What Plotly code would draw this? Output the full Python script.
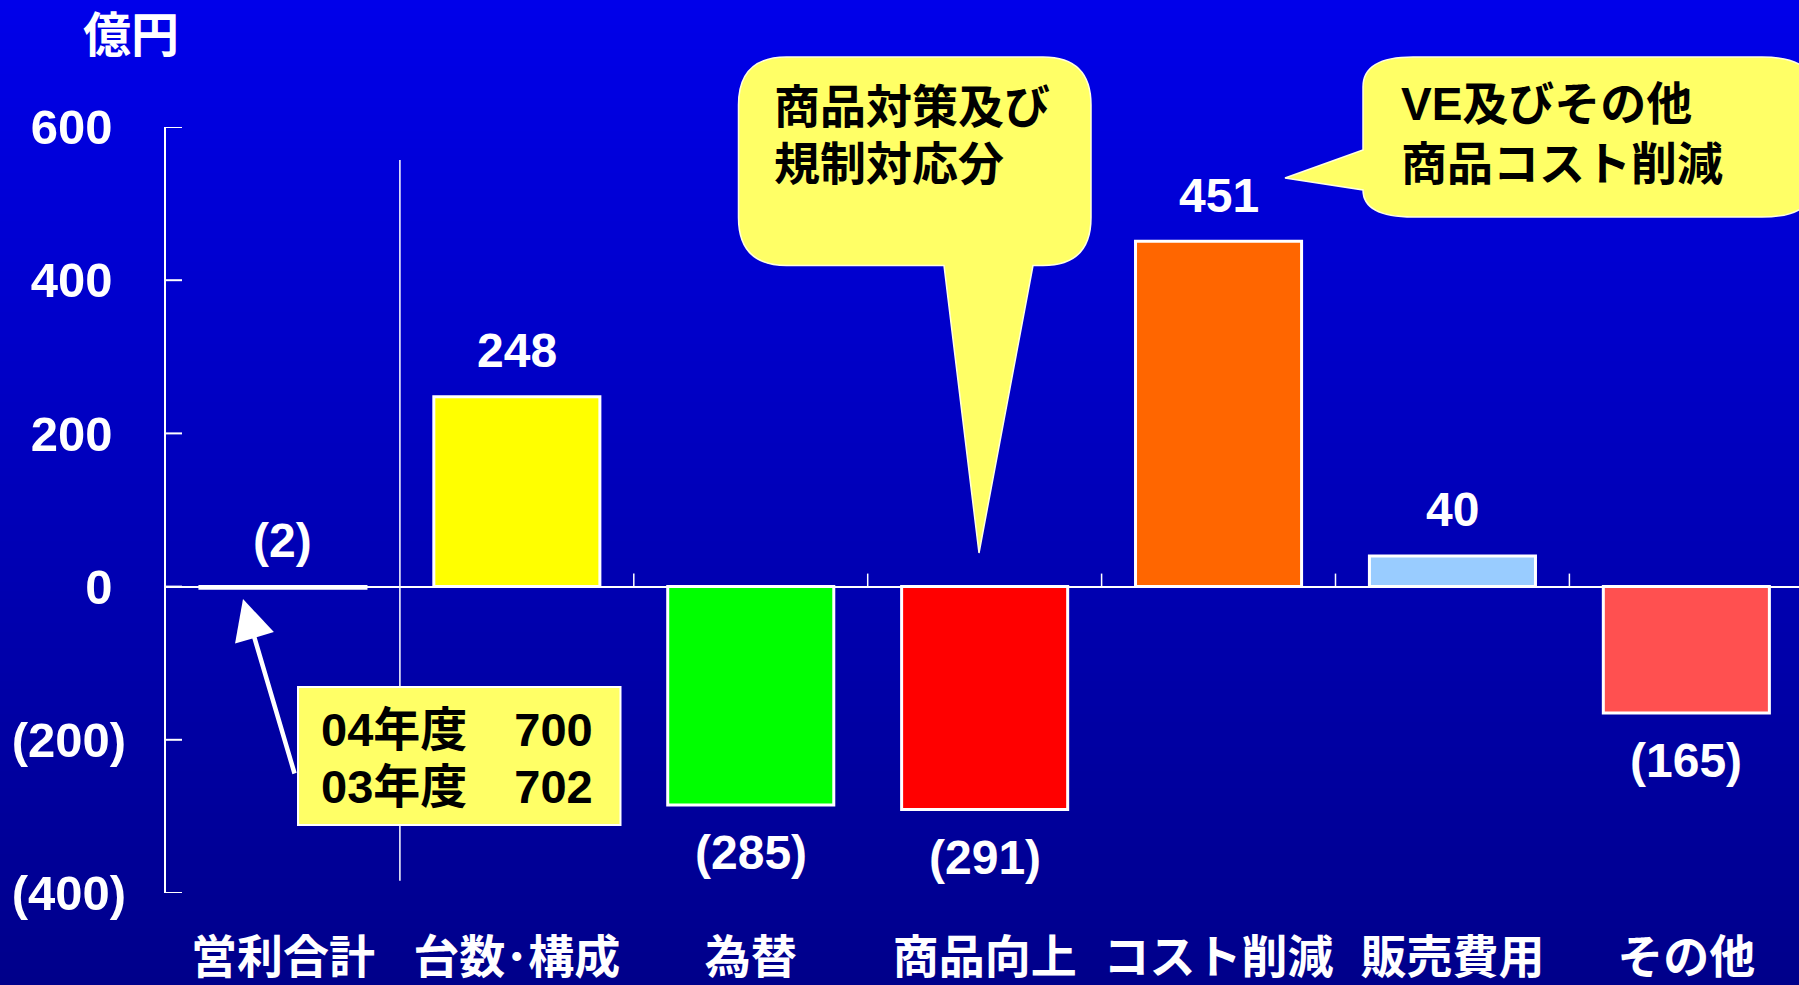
import plotly.graph_objects as go

# ---- data ----
categories = ["営利合計", "台数･構成", "為替", "商品向上", "コスト削減", "販売費用", "その他"]
values = [-2, 248, -285, -291, 451, 40, -165]
bar_colors = ["#FFFFFF", "#FFFF00", "#00FF00", "#FF0000", "#FF6600", "#99CCFF", "#FF5050"]
y_tickvals = [-400, -200, 0, 200, 400, 600]
y_ticktext = ["(400)", "(200)", "0\u00a0", "200\u00a0", "400\u00a0", "600\u00a0"]
unit_label = "億円"
callout1_lines = ["商品対策及び", "規制対応分"]
callout2_lines = ["VE及びその他", "商品コスト削減"]
box_lines = ["04年度　700", "03年度　702"]

W, H = 1799, 985
FONT = "Liberation Sans, Arial, Noto Sans CJK JP, sans-serif"


def px(x):
    return x / W


def py(y):
    return 1 - y / H


def fmt(v):
    return f"({abs(v)})" if v < 0 else str(v)


fig = go.Figure()
fig.add_trace(go.Bar(
    x=categories, y=values, width=0.71,
    marker=dict(color=bar_colors, line=dict(color="white", width=3)),
    hoverinfo="x+y", showlegend=False,
))

shapes = []
# background gradient
N = 120
top = (0, 0, 234)
bot = (0, 0, 138)
for i in range(N):
    t = (i + 0.5) / N
    c = tuple(round(top[k] + (bot[k] - top[k]) * t) for k in range(3))
    shapes.append(dict(type="rect", xref="paper", yref="paper", layer="below",
                       x0=0, x1=1, y0=1 - (i + 1) / N - 0.001, y1=1 - i / N,
                       fillcolor=f"rgb{c}", line=dict(width=0)))

# y tick marks (inside)
for v in y_tickvals:
    shapes.append(dict(type="line", xref="paper", yref="y", x0=px(166), x1=px(182), y0=v, y1=v,
                       line=dict(color="white", width=2)))

# separator line after first category and boundary ticks on zero line
shapes.append(dict(type="line", xref="x", yref="y", x0=0.5, x1=0.5, y0=-384, y1=557,
                   line=dict(color="white", width=1.5)))
for b in [1.5, 2.5, 3.5, 4.5, 5.5]:
    shapes.append(dict(type="line", xref="x", yref="y", x0=b, x1=b, y0=0, y1=17,
                       line=dict(color="white", width=1.5)))

# callout 1 (rounded rect with tail downward)
L, R, T, B = 738.5, 1091, 57, 265.5
r = 48
path = (f"M {px(L + r)},{py(T)} L {px(R - r)},{py(T)} Q {px(R)},{py(T)} {px(R)},{py(T + r)} "
        f"L {px(R)},{py(B - r)} Q {px(R)},{py(B)} {px(R - r)},{py(B)} "
        f"L {px(1033)},{py(B)} L {px(979)},{py(553)} L {px(944)},{py(B)} "
        f"L {px(L + r)},{py(B)} Q {px(L)},{py(B)} {px(L)},{py(B - r)} "
        f"L {px(L)},{py(T + r)} Q {px(L)},{py(T)} {px(L + r)},{py(T)} Z")
shapes.append(dict(type="path", xref="paper", yref="paper", path=path,
                   fillcolor="#FFFF66", line=dict(color="#FFFFE0", width=1.5)))

# callout 2 (rounded rect with tail to the left)
L, R, T, B = 1363, 1812, 57, 217
rx, ry = 50, 30
path = (f"M {px(L + rx)},{py(T)} L {px(R - rx)},{py(T)} Q {px(R)},{py(T)} {px(R)},{py(T + ry)} "
        f"L {px(R)},{py(B - ry)} Q {px(R)},{py(B)} {px(R - rx)},{py(B)} "
        f"L {px(L + rx)},{py(B)} Q {px(L)},{py(B)} {px(L)},{py(190)} "
        f"L {px(1285)},{py(178)} L {px(L)},{py(150)} "
        f"L {px(L)},{py(T + ry)} Q {px(L)},{py(T)} {px(L + rx)},{py(T)} Z")
shapes.append(dict(type="path", xref="paper", yref="paper", path=path,
                   fillcolor="#FFFF66", line=dict(color="#FFFFE0", width=1.5)))

# info box
shapes.append(dict(type="rect", xref="paper", yref="paper",
                   x0=px(298), x1=px(620.5), y0=py(825), y1=py(687),
                   fillcolor="#FFFF66", line=dict(color="white", width=2)))

annotations = []
# value labels
for c, v in zip(categories, values):
    above = v >= 0 or abs(v) < 10
    annotations.append(dict(
        x=c, y=max(v, 0) if above else v, xref="x", yref="y",
        text=fmt(v), showarrow=False, yanchor="middle",
        yshift=46 if above else -48,
        font=dict(family=FONT, size=48, color="white", weight="bold")))

# unit label
annotations.append(dict(x=px(131), y=py(36), xref="paper", yref="paper", text=unit_label,
                        showarrow=False, xanchor="center", yanchor="middle",
                        font=dict(family=FONT, size=48, color="white", weight="bold")))

# callout texts
for i, t in enumerate(callout1_lines):
    annotations.append(dict(x=px(772), y=py(107 + 57 * i), xref="paper", yref="paper", text=t,
                            showarrow=False, xanchor="left", yanchor="middle",
                            font=dict(family=FONT, size=46, color="black", weight="bold")))
for i, t in enumerate(callout2_lines):
    annotations.append(dict(x=px(1399), y=py(104 + 60 * i), xref="paper", yref="paper", text=t,
                            showarrow=False, xanchor="left", yanchor="middle",
                            font=dict(family=FONT, size=46, color="black", weight="bold")))
for i, t in enumerate(box_lines):
    annotations.append(dict(x=px(319), y=py(729 + 57 * i), xref="paper", yref="paper", text=t,
                            showarrow=False, xanchor="left", yanchor="middle",
                            font=dict(family=FONT, size=47, color="black", weight="bold")))

# arrow
annotations.append(dict(x=px(243), y=py(599), xref="paper", yref="paper",
                        ax=52, ay=176, axref="pixel", ayref="pixel",
                        text="", showarrow=True, arrowhead=2, arrowsize=1.8,
                        arrowwidth=4.5, arrowcolor="white", standoff=0))

fig.update_layout(
    width=W, height=H,
    margin=dict(l=0, r=0, t=0, b=0),
    paper_bgcolor="#0000B4", plot_bgcolor="rgba(0,0,0,0)",
    shapes=shapes, annotations=annotations,
    showlegend=False,
    xaxis=dict(domain=[px(166), 1], range=[-0.5, -0.5 + (W - 166) / 233.9],
               showgrid=False, zeroline=False, showline=False, ticks="",
               tickfont=dict(family=FONT, size=46, color="white", weight="bold"),
               ticklabelstandoff=33, automargin=False),
    yaxis=dict(domain=[py(893), py(127)], range=[-400, 600],
               tickvals=y_tickvals, ticktext=y_ticktext,
               showgrid=False, zeroline=True, zerolinecolor="white", zerolinewidth=2,
               showline=True, linecolor="white", linewidth=2,
               ticks="",
               tickfont=dict(family=FONT, size=49, color="white", weight="bold"),
               ticklabelstandoff=28, automargin=False),
)

fig.write_html("out.html", config={"displayModeBar": False},
               post_script="document.body.style.margin='0';document.body.style.overflow='hidden';")
